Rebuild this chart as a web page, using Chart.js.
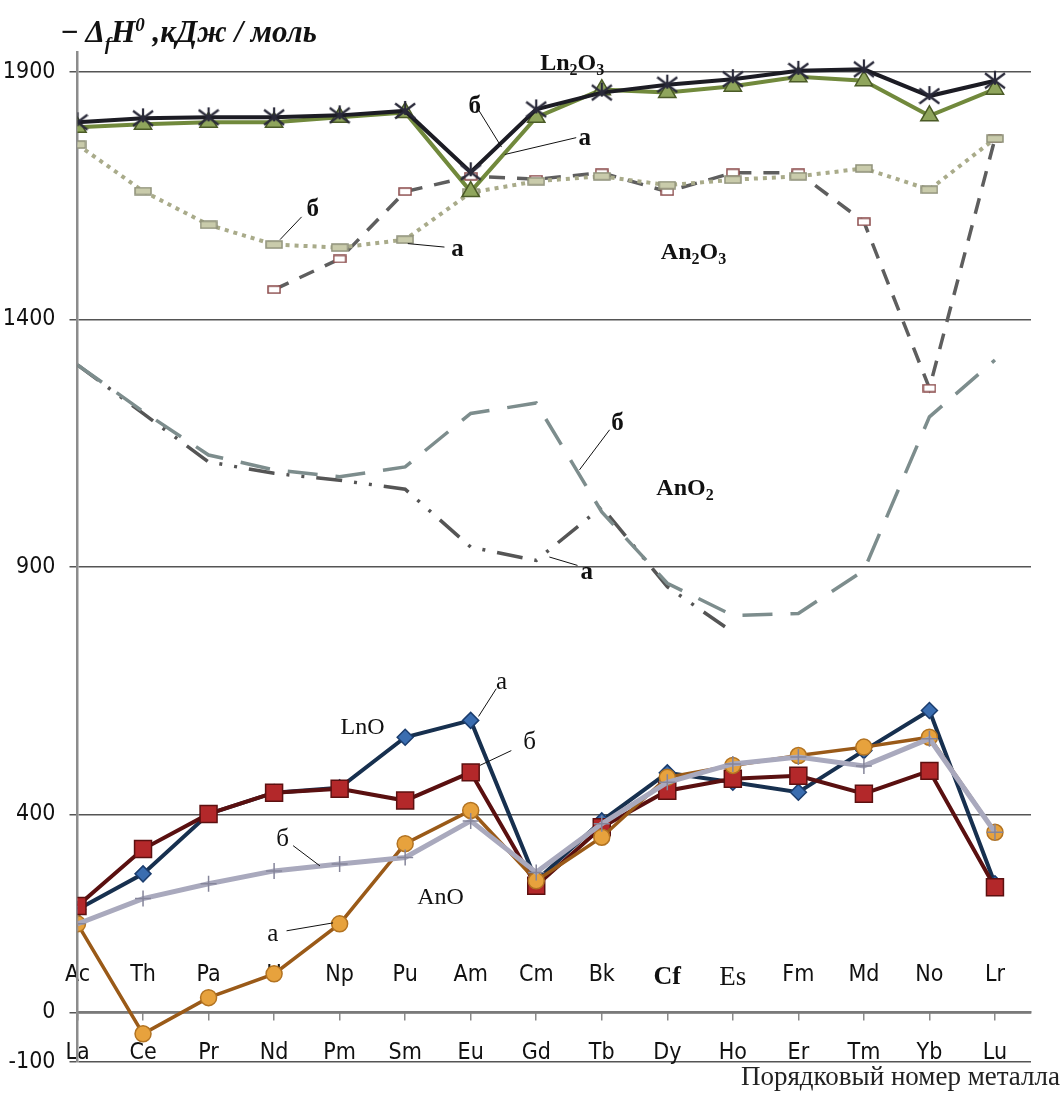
<!DOCTYPE html>
<html lang="ru">
<head>
<meta charset="utf-8">
<script src="https://cdn.jsdelivr.net/npm/chart.js@4.4.1/dist/chart.umd.min.js"></script>
<style>
  body { margin: 0; background: #fff; }
  #wrap { position: relative; width: 1062px; height: 1095px; }
  .ytitle { position: absolute; left: 60px; top: 15px; font: italic bold 31px "Liberation Serif", serif; line-height: 1; white-space: nowrap; color: #111; }
  .ytitle sub, .ytitle sup { font-size: 19px; }
  .xtitle { position: absolute; right: 2px; top: 1063px; font: 27px "Liberation Serif", serif; line-height: 1; white-space: nowrap; color: #222; }
</style>
</head>
<body>
<div id="wrap">
  <canvas id="chart" width="1062" height="1095"></canvas>
  <div class="ytitle">− Δ<sub>f</sub>H<sup>0</sup> ,кДж / моль</div>
  <div class="xtitle">Порядковый номер металла</div>
</div>
<script>
document.addEventListener('DOMContentLoaded', () => {
  const actinides = ['Ac', 'Th', 'Pa', 'U', 'Np', 'Pu', 'Am', 'Cm', 'Bk', 'Cf', 'Es', 'Fm', 'Md', 'No', 'Lr'];
  const lanthanides = ['La', 'Ce', 'Pr', 'Nd', 'Pm', 'Sm', 'Eu', 'Gd', 'Tb', 'Dy', 'Ho', 'Er', 'Tm', 'Yb', 'Lu'];
  const yTicks = [-100, 0, 400, 900, 1400, 1900];

  // Ln2O3
  const ln2o3B = [1798, 1806, 1808, 1808, 1812, 1821, 1697, 1824, 1858, 1874, 1885, 1902, 1905, 1851, 1882];
  const ln2o3A = [1788, 1794, 1798, 1798, 1808, 1818, 1658, 1808, 1864, 1858, 1871, 1890, 1882, 1811, 1865];
  // An2O3
  const an2o3B = [1753, 1659, 1591, 1551, 1545, 1561, 1656, 1679, 1689, 1671, 1682, 1689, 1705, 1662, 1765];
  const an2o3A = [null, null, null, 1460, 1522, 1658, 1689, 1683, 1696, 1658, 1696, 1696, 1597, 1261, 1765];
  // AnO2
  const ano2B = [1308, 1214, 1126, 1096, 1082, 1102, 1210, 1231, 1011, 867, 802, 806, 893, 1203, 1318];
  const ano2A = [1308, 1210, 1112, 1089, 1075, 1057, 940, 913, 1021, 860, 768, null, null, null, null];
  // LnO
  const lnoA = [208, 280, 401, 444, 454, 556, 590, 266, 387, 484, 465, 445, 529, 610, 260];
  const lnoB = [215, 330, 401, 444, 452, 428, 485, 256, 374, 448, 472, 478, 442, 488, 253];
  // AnO
  const anoA = [179, -43, 30, 78, 179, 341, 408, 266, 354, 475, 499, 519, 536, 556, 364];
  const anoB = [179, 230, 260, 286, 300, 313, 387, 283, 381, 465, 502, 516, 498, 553, 364];

  const sans = '"DejaVu Sans Condensed", "Liberation Sans Narrow", "Liberation Sans", sans-serif';
  const serif = '"Liberation Serif", "Times New Roman", serif';

  // text labels on the plot, placed in data units (index, kJ/mol)
  const notes = [
    { parts: [['Ln'], ['2', 1], ['O'], ['3', 1]], x: 7.55, y: 1919, size: 24, bold: true },
    { parts: [['б']], x: 6.06, y: 1834, size: 25, bold: true, line: [6.12, 1823, 6.47, 1748] },
    { parts: [['а']], x: 7.74, y: 1769, size: 25, bold: true, line: [7.61, 1767, 6.52, 1733] },
    { parts: [['б']], x: 3.59, y: 1625, size: 25, bold: true, line: [3.42, 1607, 3.09, 1561] },
    { parts: [['а']], x: 5.80, y: 1544, size: 25, bold: true, line: [5.60, 1546, 5.04, 1553] },
    { parts: [['An'], ['2', 1], ['O'], ['3', 1]], x: 9.40, y: 1538, size: 24, bold: true },
    { parts: [['AnO'], ['2', 1]], x: 9.27, y: 1061, size: 24, bold: true },
    { parts: [['б']], x: 8.24, y: 1193, size: 25, bold: true, line: [8.12, 1177, 7.66, 1096] },
    { parts: [['а']], x: 7.77, y: 893, size: 25, bold: true, line: [7.63, 903, 7.20, 920] },
    { parts: [['LnO']], x: 4.35, y: 578, size: 24 },
    { parts: [['а']], x: 6.47, y: 671, size: 25, line: [6.39, 654, 6.12, 598] },
    { parts: [['б']], x: 6.90, y: 549, size: 25, line: [6.62, 529, 6.14, 499] },
    { parts: [['AnO']], x: 5.54, y: 235, size: 24 },
    { parts: [['б']], x: 3.13, y: 353, size: 25, line: [3.29, 337, 3.70, 296] },
    { parts: [['а']], x: 2.98, y: 161, size: 25, line: [3.19, 165, 3.90, 181] }
  ];

  function rectMarker(w, h, fill, stroke) {
    const c = document.createElement('canvas');
    c.width = w + 2; c.height = h + 2;
    const g = c.getContext('2d');
    g.fillStyle = fill; g.fillRect(1, 1, w, h);
    g.strokeStyle = stroke; g.lineWidth = 1.5; g.strokeRect(1, 1, w, h);
    return c;
  }

  function starMarker(size, color) {
    const c = document.createElement('canvas');
    c.width = c.height = size;
    const g = c.getContext('2d');
    const m = size / 2, r = size / 2 - 1;
    g.strokeStyle = color; g.lineWidth = 2.2;
    g.beginPath();
    g.moveTo(m - r, m - r * 0.75); g.lineTo(m + r, m + r * 0.75);
    g.moveTo(m + r, m - r * 0.75); g.lineTo(m - r, m + r * 0.75);
    g.moveTo(m, m - r); g.lineTo(m, m + r * 0.4);
    g.stroke();
    return c;
  }

  const pts = arr => arr.map((v, i) => ({ x: i, y: v }));

  const datasets = [
    { data: pts(ln2o3B), borderColor: '#1c1c24', borderWidth: 4, pointStyle: starMarker(22, '#2a2a3a') },
    { data: pts(ln2o3A), borderColor: '#71893c', borderWidth: 4, pointStyle: 'triangle', pointRadius: 10,
      pointBackgroundColor: '#8fa55c', pointBorderColor: '#4b5b27', pointBorderWidth: 1.5 },
    { data: pts(an2o3B), borderColor: '#a9ab8a', borderWidth: 4, borderDash: [4, 5],
      pointStyle: rectMarker(16, 7, '#c9cbab', '#8f917a') },
    { data: pts(an2o3A), borderColor: '#5e5e5e', borderWidth: 3.5, borderDash: [16, 12],
      pointStyle: rectMarker(12, 7, '#ffffff', '#8a4a4a') },
    { data: pts(ano2B), borderColor: '#7d8d8d', borderWidth: 3.5, borderDash: [30, 18], pointRadius: 0 },
    { data: pts(ano2A), borderColor: '#555555', borderWidth: 3.5, borderDash: [26, 12, 3, 12, 3, 12], pointRadius: 0 },
    { data: pts(anoB), borderColor: '#a9a9bd', borderWidth: 5, pointStyle: 'cross', pointRadius: 8,
      pointBorderColor: '#85859a', pointBorderWidth: 1.5 },
    { data: pts(anoA), borderColor: '#9a5a18', borderWidth: 3.5, pointStyle: 'circle', pointRadius: 8,
      pointBackgroundColor: '#e7a23d', pointBorderColor: '#b27322', pointBorderWidth: 1.5 },
    { data: pts(lnoB), borderColor: '#5a1010', borderWidth: 4, pointStyle: 'rect', pointRadius: 12,
      pointBackgroundColor: '#b3282a', pointBorderColor: '#5c1010', pointBorderWidth: 1.5 },
    { data: pts(lnoA), borderColor: '#17304f', borderWidth: 4, pointStyle: 'rectRot', pointRadius: 8,
      pointBackgroundColor: '#3a6db0', pointBorderColor: '#1b3d6e', pointBorderWidth: 1.5 }
  ];
  datasets.forEach(d => {
    d.fill = false;
    d.tension = 0;
    if (d.pointRadius === undefined) d.pointRadius = 8;
  });

  const notesPlugin = {
    id: 'notes',
    afterDatasetsDraw(chart) {
      const { ctx, scales: { x, y } } = chart;
      ctx.save();
      ctx.fillStyle = '#111';
      ctx.strokeStyle = '#111';
      ctx.lineWidth = 1;
      notes.forEach(n => {
        if (n.line) {
          ctx.beginPath();
          ctx.moveTo(x.getPixelForValue(n.line[0]), y.getPixelForValue(n.line[1]));
          ctx.lineTo(x.getPixelForValue(n.line[2]), y.getPixelForValue(n.line[3]));
          ctx.stroke();
        }
        const w = n.bold ? 'bold ' : '';
        const fonts = n.parts.map(p => w + Math.round(p[1] ? n.size * 0.68 : n.size) + 'px ' + serif);
        let total = 0;
        n.parts.forEach((p, i) => { ctx.font = fonts[i]; total += ctx.measureText(p[0]).width; });
        let cx = x.getPixelForValue(n.x) - total / 2;
        const base = y.getPixelForValue(n.y) + n.size * 0.33;
        ctx.textBaseline = 'alphabetic';
        ctx.textAlign = 'left';
        n.parts.forEach((p, i) => {
          ctx.font = fonts[i];
          ctx.fillText(p[0], cx, p[1] ? base + n.size * 0.2 : base);
          cx += ctx.measureText(p[0]).width;
        });
      });
      ctx.restore();
    }
  };

  const tickFont = { family: sans, size: 23 };

  new Chart(document.getElementById('chart'), {
    type: 'line',
    data: { datasets },
    options: {
      responsive: false,
      animation: false,
      layout: { padding: { top: 52, right: 31, bottom: 33, left: 0 } },
      plugins: { legend: { display: false }, tooltip: { enabled: false } },
      scales: {
        x: {
          type: 'linear', min: 0, max: 14.55,
          position: { y: 0 },
          afterBuildTicks: s => { s.ticks = lanthanides.map((_, i) => ({ value: i })); },
          grid: { drawOnChartArea: false, drawTicks: true, tickLength: 7, color: '#8a8a8a', lineWidth: 1.5 },
          border: { color: '#7a7a7a', width: 2.5 },
          ticks: { autoSkip: false, maxRotation: 0, padding: 20, color: '#111', font: tickFont,
            callback: v => lanthanides[v] }
        },
        x2: {
          type: 'linear', axis: 'x', min: 0, max: 14.55,
          position: { y: 0 },
          afterBuildTicks: s => { s.ticks = actinides.map((_, i) => ({ value: i })); },
          grid: { display: false, drawTicks: false },
          border: { display: false },
          ticks: { autoSkip: false, maxRotation: 0, padding: -51, color: '#111',
            font: c => {
              const name = actinides[c.index];
              if (name === 'Cf') return { family: serif, size: 26, weight: 'bold' };
              if (name === 'Es') return { family: serif, size: 27 };
              return tickFont;
            },
            callback: v => actinides[v] }
        },
        y: {
          min: -100, max: 1940,
          afterBuildTicks: s => { s.ticks = yTicks.map(v => ({ value: v })); },
          afterFit: s => { s.width = 77.5; },
          grid: { color: '#555555', lineWidth: 1.5, tickLength: 8 },
          border: { color: '#8c8c8c', width: 2.5 },
          ticks: { padding: 14, color: '#111', font: tickFont, callback: v => String(v) }
        }
      }
    },
    plugins: [notesPlugin]
  });
});
</script>
</body>
</html>
